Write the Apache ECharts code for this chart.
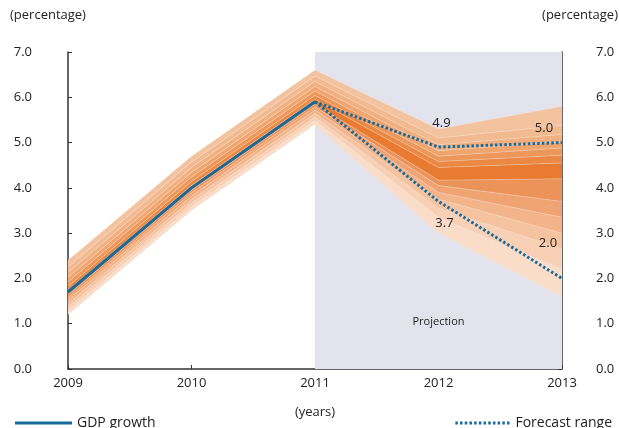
<!DOCTYPE html>
<html><head><meta charset="utf-8">
<script src="https://cdn.jsdelivr.net/npm/echarts@6/dist/echarts.min.js"></script>
<style>html,body{margin:0;padding:0;background:#fff}#c{width:619px;height:428px}</style>
</head><body><div id="c"></div>
<script>
const years = ['2009', '2010', '2011', '2012', '2013'];
const gdpGrowth = [1.7, 4.0, 5.9, null, null];
const forecastHigh = [null, null, 5.9, 4.9, 5.0];
const forecastLow = [null, null, 5.9, 3.7, 2.0];
const yTicks = [0, 1, 2, 3, 4, 5, 6, 7];
// fan band boundaries per year, low to high
const fan2009 = [1.20, 1.28, 1.36, 1.44, 1.52, 1.58, 1.64, 1.74, 1.82, 1.92, 2.02, 2.13, 2.25, 2.40];
const fan2010 = [3.50, 3.58, 3.66, 3.74, 3.82, 3.89, 3.95, 4.05, 4.14, 4.24, 4.34, 4.45, 4.57, 4.70];
const fan2011 = [5.40, 5.48, 5.56, 5.64, 5.72, 5.79, 5.85, 5.95, 6.04, 6.14, 6.24, 6.35, 6.47, 6.60];
const fan2012 = [3.00, 3.35, 3.55, 3.75, 3.90, 4.05, 4.17, 4.45, 4.58, 4.70, 4.82, 4.95, 5.10, 5.30];
const fan2013 = [1.60, 2.20, 2.65, 3.00, 3.35, 3.70, 4.20, 4.55, 4.72, 4.88, 5.02, 5.18, 5.38, 5.80];
const bandColors = ['#FADDC9', '#F8D0B5', '#F6C3A1', '#F3B48A', '#F0A473', '#EC935A', '#E87B30',
                    '#EB8843', '#EE975A', '#F0A56F', '#F1B080', '#F2BA90', '#F3C3A0'];

const fanByYear = [fan2009, fan2010, fan2011, fan2012, fan2013];
const font = "'Open Sans', sans-serif";
const blue = '#176A9C';

const series = [];
// projection background
series.push({
  type: 'line', data: [], z: 0, silent: true,
  markArea: {
    silent: true,
    itemStyle: { color: '#E3E3EE' },
    label: { show: true, position: 'insideBottom', distance: 42, color: '#222', fontSize: 11, fontFamily: font },
    data: [[{ xAxis: '2011', name: 'Projection' }, { xAxis: '2013' }]]
  }
});
// base
series.push({
  type: 'line', stack: 'fan', symbol: 'none', silent: true, z: 1,
  lineStyle: { width: 0 },
  data: fanByYear.map(f => f[0])
});
for (let k = 0; k < bandColors.length; k++) {
  series.push({
    type: 'line', stack: 'fan', symbol: 'none', silent: true, z: 1,
    lineStyle: { width: 0.6, color: 'rgba(253,236,225,0.55)' },
    areaStyle: { color: bandColors[k], opacity: 1 },
    data: fanByYear.map(f => +(f[k + 1] - f[k]).toFixed(4))
  });
}
series.push({
  name: 'GDP growth', type: 'line', symbol: 'none', z: 5,
  lineStyle: { color: blue, width: 3 }, itemStyle: { color: blue },
  data: gdpGrowth
});

const valLabel = { show: true, position: 'inside', color: '#222', fontSize: 13, fontFamily: font,
                   formatter: p => Number(p.value).toFixed(1) };
function mp(arr, i, off) {
  return { coord: [years[i], arr[i]], value: arr[i], label: Object.assign({}, valLabel, { offset: off }) };
}
series.push({
  name: 'Forecast range', type: 'line', symbol: 'none', z: 6,
  lineStyle: { color: blue, width: 3, type: [2.5, 2.2] }, itemStyle: { color: blue },
  data: forecastHigh,
  markPoint: { symbol: 'circle', symbolSize: 0, silent: true, label: valLabel,
    data: [mp(forecastHigh, 3, [3, -24]), mp(forecastHigh, 4, [-18, -14])] }
});
series.push({
  name: 'Forecast range', type: 'line', symbol: 'none', z: 6,
  lineStyle: { color: blue, width: 3, type: [2.5, 2.2] }, itemStyle: { color: blue },
  data: forecastLow,
  markPoint: { symbol: 'circle', symbolSize: 0, silent: true, label: valLabel,
    data: [mp(forecastLow, 3, [6, 22]), mp(forecastLow, 4, [-14, -35])] }
});

const yAxisBase = {
  type: 'value', min: yTicks[0], max: yTicks[yTicks.length - 1], interval: 1,
  splitLine: { show: false },
  axisLine: { show: true, lineStyle: { color: '#333', width: 1.5 } },
  axisTick: { show: true, inside: true, length: 4, lineStyle: { color: '#333' } },
  axisLabel: { formatter: v => v.toFixed(1), color: '#222', fontSize: 13, fontFamily: font }
};

// dotted legend icon (56 x 3)
let dotPath = 'path://';
for (let x = 0; x + 2.5 <= 56.01; x += 4.7) dotPath += 'M' + x.toFixed(1) + ',0h2.5v3h-2.5z';
const solidPath = 'path://M0,0h57v3h-57z';

const chart = echarts.init(document.getElementById('c'), null, { renderer: 'canvas' });
chart.setOption({
  animation: false,
  backgroundColor: '#fff',
  grid: { left: 68, right: 57, top: 52, bottom: 59, containLabel: false },
  xAxis: {
    type: 'category', data: years, boundaryGap: false,
    name: '(years)', nameLocation: 'middle', nameGap: 37,
    nameTextStyle: { color: '#222', fontSize: 13, fontFamily: font },
    axisLine: { lineStyle: { color: '#333', width: 1.5 } },
    axisTick: { inside: true, length: 4, alignWithLabel: true, lineStyle: { color: '#333' } },
    axisLabel: { color: '#222', fontSize: 13, fontFamily: font, margin: 8 },
    splitLine: { show: false }
  },
  yAxis: [
    Object.assign({}, yAxisBase, { position: 'left', axisLabel: Object.assign({}, yAxisBase.axisLabel, { margin: 36 }) }),
    Object.assign({}, yAxisBase, { position: 'right', axisLabel: Object.assign({}, yAxisBase.axisLabel, { margin: 34 }) })
  ],
  legend: [
    { data: [{ name: 'GDP growth', icon: solidPath }], left: 10, top: 411, itemWidth: 57, itemHeight: 3, itemGap: 10,
      textStyle: { color: '#222', fontSize: 14, fontFamily: font, padding: [0, 0, 0, 0] } },
    { data: [{ name: 'Forecast range', icon: dotPath }], right: 2, top: 411, itemWidth: 56, itemHeight: 3,
      textStyle: { color: '#222', fontSize: 14, fontFamily: font } }
  ],
  graphic: [
    { type: 'text', left: 10, top: 9, style: { text: '(percentage)', fill: '#222', font: "13px 'Open Sans', sans-serif" } },
    { type: 'text', right: 1, top: 9, style: { text: '(percentage)', fill: '#222', font: "13px 'Open Sans', sans-serif" } }
  ],
  series: series
});
</script></body></html>
